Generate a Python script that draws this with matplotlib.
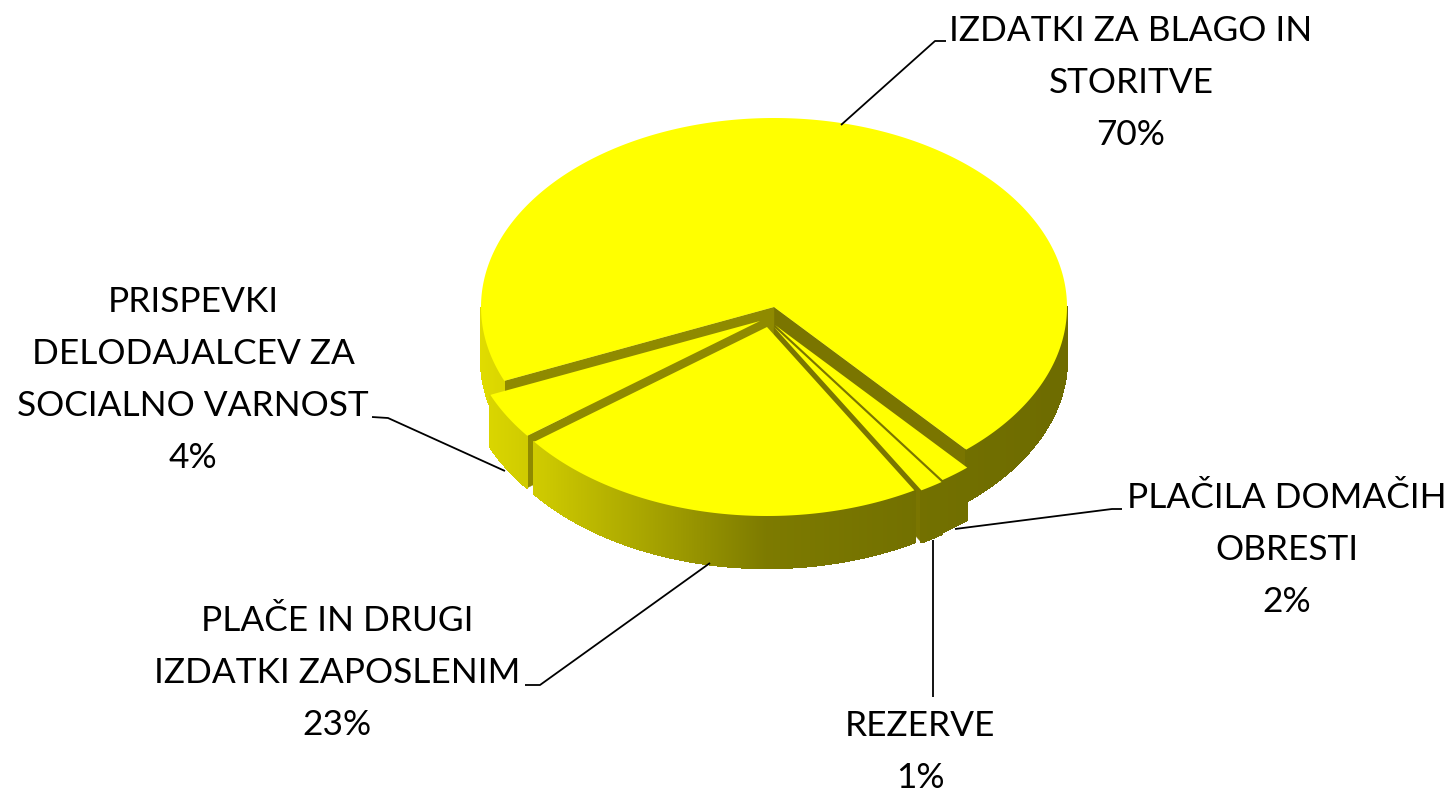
import numpy as np
import matplotlib
matplotlib.use('Agg')
import matplotlib.pyplot as plt
from matplotlib.collections import PolyCollection
from matplotlib.patches import Polygon

labels = ['IZDATKI ZA BLAGO IN\nSTORITVE', 'PLAČILA DOMAČIH\nOBRESTI', 'REZERVE',
          'PLAČE IN DRUGI\nIZDATKI ZAPOSLENIM', 'PRISPEVKI\nDELODAJALCEV ZA\nSOCIALNO VARNOST']
values = [70, 1.7, 1.3, 23, 4]

# pie geometry in pixels of the figure
apex_x = [774, 775, 774, 767, 760]
apex_y = [307, 325, 327, 327, 321]
rx = 293
ry = 189
depth = 52
start_angle = 203
draw_order = [0, 1, 2, 4, 3]

label_x = [1131, 1287, 920, 337, 193]
label_y = [31, 498, 726, 621, 302]
leader_x = [[841, 935, 946], [955, 1112, 1122], [933, 933], [710, 540, 525], [505, 388, 372]]
leader_y = [[125, 41, 41], [529, 509, 509], [540, 697], [563, 685, 685], [471, 418, 417]]

plt.rcParams['font.family'] = ['Lato', 'DejaVu Sans']
fig = plt.figure(figsize=(14.54, 7.92), dpi=100)
ax = fig.add_axes([0, 0, 1, 1])
ax.set_xlim(0, 1454)
ax.set_ylim(792, 0)
ax.axis('off')


def rim_colour(theta):
    b = np.interp(np.cos(theta), [-1, -0.75, 0, 0.5, 1], [0.88, 0.80, 0.49, 0.45, 0.43])
    return (b, b * 0.98, 0)


def wall(cx, cy, a, colour):
    x = cx + rx * np.cos(a)
    y = cy - ry * np.sin(a)
    ax.add_patch(Polygon([(cx, cy), (x, y), (x, y + depth), (cx, cy + depth)],
                         facecolor=colour, edgecolor=colour, linewidth=0.3))


def draw_slice(i, a0, a1):
    cx, cy = apex_x[i], apex_y[i]
    # cut faces, only the ones turned to the viewer
    if np.cos(a0) > 0:
        wall(cx, cy, a0, '#7a7500')
    if np.cos(a1) < 0:
        wall(cx, cy, a1, '#8f8a00')

    t = np.linspace(a0, a1, 300)
    x = cx + rx * np.cos(t)
    y = cy - ry * np.sin(t)
    quads = []
    cols = []
    for k in range(len(t) - 1):
        if np.sin((t[k] + t[k + 1]) / 2) < 0:
            quads.append([(x[k], y[k]), (x[k + 1], y[k + 1]),
                          (x[k + 1], y[k + 1] + depth), (x[k], y[k] + depth)])
            cols.append(rim_colour((t[k] + t[k + 1]) / 2))
    if quads:
        ax.add_collection(PolyCollection(quads, facecolors=cols, edgecolors=cols,
                                         linewidths=1.0, antialiaseds=False))

    pts = [(cx, cy)] + list(zip(x, y))
    ax.add_patch(Polygon(pts, facecolor='#ffff00', edgecolor='none'))


# angles go clockwise from the start of the big slice
cum = np.cumsum([0] + values) / sum(values) * 360
ends = np.radians(start_angle - cum)
for i in draw_order:
    draw_slice(i, ends[i + 1], ends[i])

for lx, ly in zip(leader_x, leader_y):
    ax.plot(lx, ly, color='black', lw=1.3, solid_capstyle='butt')

for i, lab in enumerate(labels):
    lines = lab.split('\n') + ['%.0f%%' % values[i]]
    for k, line in enumerate(lines):
        ax.text(label_x[i], label_y[i] + k * 52, line, ha='center', va='center',
                fontsize=25.4, color='black')

fig.savefig('out.png', dpi=100, facecolor='white')
